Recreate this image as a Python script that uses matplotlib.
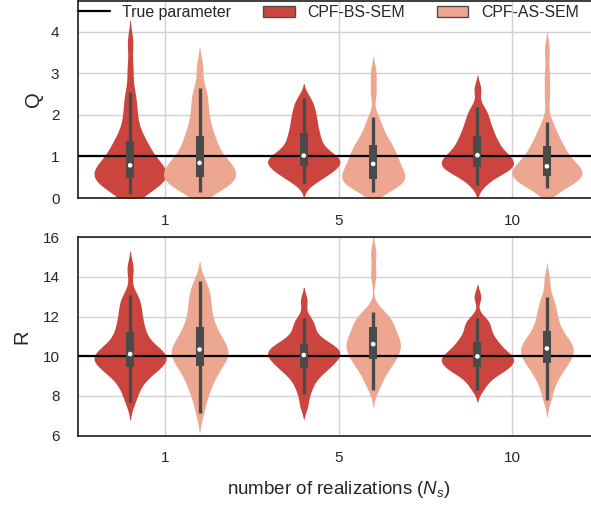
import numpy as np
import pandas as pd
import matplotlib
matplotlib.use("Agg")
import matplotlib.pyplot as plt
from matplotlib.lines import Line2D
from matplotlib.patches import Patch
import seaborn as sns

ns_labels = ["1", "5", "10"]
methods = ["CPF-BS-SEM", "CPF-AS-SEM"]
q_true = 1.0
r_true = 10.0

# estimated Q per run
q_bs_1 = [0.09, 0.17, 0.24, 0.30, 0.35, 0.39, 0.43, 0.46, 0.50, 0.54, 0.58, 0.62, 0.66, 0.70, 0.74, 0.77,
          0.80, 0.88, 0.96, 1.04, 1.12, 1.20, 1.28, 1.36, 1.45, 1.62, 1.82, 2.05, 2.30, 2.56, 3.10, 3.75]
q_as_1 = [0.14, 0.22, 0.28, 0.33, 0.37, 0.41, 0.44, 0.47, 0.51, 0.56, 0.61, 0.66, 0.71, 0.75, 0.79, 0.83,
          0.86, 0.94, 1.02, 1.10, 1.19, 1.28, 1.37, 1.47, 1.58, 1.72, 1.88, 2.05, 2.25, 2.45, 2.65, 3.15]
q_bs_5 = [0.37, 0.45, 0.52, 0.58, 0.63, 0.67, 0.71, 0.75, 0.78, 0.82, 0.86, 0.89, 0.92, 0.95, 0.98, 1.00,
          1.04, 1.10, 1.16, 1.23, 1.30, 1.38, 1.46, 1.54, 1.62, 1.72, 1.82, 1.92, 2.02, 2.14, 2.27, 2.41]
q_as_5 = [0.15, 0.22, 0.28, 0.33, 0.37, 0.40, 0.43, 0.44, 0.47, 0.52, 0.57, 0.62, 0.67, 0.72, 0.76, 0.80,
          0.84, 0.90, 0.96, 1.02, 1.08, 1.14, 1.20, 1.25, 1.31, 1.40, 1.50, 1.62, 1.78, 1.94, 2.55, 3.00]
q_bs_10 = [0.31, 0.44, 0.53, 0.60, 0.65, 0.69, 0.72, 0.73, 0.76, 0.80, 0.84, 0.88, 0.92, 0.95, 0.98, 1.01,
           1.05, 1.10, 1.16, 1.22, 1.28, 1.34, 1.40, 1.47, 1.55, 1.63, 1.72, 1.82, 1.93, 2.05, 2.19, 2.62]
q_as_10 = [0.23, 0.29, 0.34, 0.38, 0.42, 0.45, 0.48, 0.51, 0.54, 0.57, 0.60, 0.63, 0.66, 0.69, 0.72, 0.745,
           0.78, 0.84, 0.90, 0.96, 1.03, 1.10, 1.17, 1.23, 1.30, 1.40, 1.52, 1.66, 1.83, 2.45, 2.95, 3.55]

# estimated R per run
r_bs_1 = [7.70, 8.20, 8.55, 8.80, 9.05, 9.20, 9.30, 9.40, 9.50, 9.60, 9.70, 9.80, 9.88, 9.95, 10.02, 10.08,
          10.14, 10.22, 10.32, 10.44, 10.58, 10.80, 10.98, 11.18, 11.42, 11.65, 11.90, 12.20, 12.50, 12.80, 13.09, 14.40]
r_as_1 = [7.14, 7.80, 8.20, 8.50, 8.75, 8.98, 9.18, 9.38, 9.52, 9.65, 9.78, 9.90, 10.02, 10.13, 10.23, 10.30,
          10.38, 10.50, 10.65, 10.80, 10.95, 11.10, 11.26, 11.42, 11.70, 11.95, 12.20, 12.50, 12.80, 13.10, 13.40, 13.79]
r_bs_5 = [7.50, 8.07, 8.45, 8.70, 8.95, 9.12, 9.25, 9.35, 9.45, 9.55, 9.65, 9.74, 9.83, 9.90, 9.97, 10.03,
          10.09, 10.16, 10.23, 10.30, 10.38, 10.46, 10.53, 10.58, 10.66, 10.80, 10.98, 11.20, 11.45, 11.70, 11.91, 12.80]
r_as_5 = [8.32, 8.70, 8.95, 9.20, 9.40, 9.55, 9.70, 9.80, 9.86, 10.00, 10.12, 10.24, 10.35, 10.45, 10.53, 10.58,
          10.64, 10.75, 10.86, 10.98, 11.10, 11.22, 11.33, 11.42, 11.58, 11.72, 11.86, 12.00, 12.12, 12.25, 14.10, 15.20]
r_bs_10 = [8.32, 8.65, 8.88, 9.05, 9.18, 9.28, 9.36, 9.42, 9.48, 9.56, 9.64, 9.72, 9.80, 9.87, 9.93, 9.97,
           10.01, 10.08, 10.17, 10.27, 10.38, 10.50, 10.60, 10.70, 10.82, 10.98, 11.15, 11.35, 11.55, 11.75, 11.91, 13.00]
r_as_10 = [7.78, 8.30, 8.65, 8.90, 9.10, 9.30, 9.45, 9.57, 9.66, 9.78, 9.90, 10.00, 10.10, 10.20, 10.29, 10.36,
           10.42, 10.52, 10.62, 10.73, 10.84, 10.96, 11.10, 11.24, 11.44, 11.65, 11.88, 12.12, 12.38, 12.68, 13.00, 13.85]

q_groups = {("1", "CPF-BS-SEM"): q_bs_1, ("1", "CPF-AS-SEM"): q_as_1,
            ("5", "CPF-BS-SEM"): q_bs_5, ("5", "CPF-AS-SEM"): q_as_5,
            ("10", "CPF-BS-SEM"): q_bs_10, ("10", "CPF-AS-SEM"): q_as_10}
r_groups = {("1", "CPF-BS-SEM"): r_bs_1, ("1", "CPF-AS-SEM"): r_as_1,
            ("5", "CPF-BS-SEM"): r_bs_5, ("5", "CPF-AS-SEM"): r_as_5,
            ("10", "CPF-BS-SEM"): r_bs_10, ("10", "CPF-AS-SEM"): r_as_10}

BOX_GRAY = "#4a4a4a"
DODGE = 0.2  # half of the 0.4 slot each method gets in a group
palette = dict(zip(methods, sns.color_palette("Reds_r", 2)))


def slot(ns, method):
    return ns_labels.index(ns) + (methods.index(method) - 0.5) * 2 * DODGE


def to_frame(groups, ns):
    rows = []
    for m in methods:
        for v in groups[(ns, m)]:
            rows.append((slot(ns, m), m, v))
    return pd.DataFrame(rows, columns=["pos", "method", "value"])


def draw_boxes(ax, groups):
    # inner box like seaborn's old inner="box"
    for (ns, m), vals in groups.items():
        vals = np.asarray(vals)
        pos = slot(ns, m)
        q1, med, q3 = np.percentile(vals, [25, 50, 75])
        lim = 1.5 * (q3 - q1)
        lo = vals[vals >= q1 - lim].min()
        hi = vals[vals <= q3 + lim].max()
        ax.plot([pos, pos], [lo, hi], color=BOX_GRAY, lw=2.4,
                solid_capstyle="butt", zorder=4)
        ax.plot([pos, pos], [q1, q3], color=BOX_GRAY, lw=5.8,
                solid_capstyle="butt", zorder=4)
        ax.scatter([pos], [med], s=11, color="white", edgecolor="none", zorder=5)


def panel(ax, groups, true_val, bw):
    # one call per group so the pair is scaled together (old scale_hue=True)
    for ns in ns_labels:
        sns.violinplot(data=to_frame(groups, ns), x="pos", y="value", hue="method",
                       hue_order=methods, native_scale=True, dodge=False, width=1.04,
                       common_norm=True, palette=palette, inner=None, linewidth=0,
                       bw_adjust=bw, cut=2, legend=False, ax=ax)
    ax.axhline(true_val, color="black", lw=1.6, zorder=3)
    draw_boxes(ax, groups)
    ax.set_xticks(range(len(ns_labels)))
    ax.set_xticklabels(ns_labels)
    ax.set_xlim(-0.5, 2.5)
    ax.grid(True, axis="both")
    ax.set_axisbelow(True)
    ax.tick_params(axis="both", length=0, labelsize=11)
    ax.tick_params(axis="x", pad=11.4)
    ax.tick_params(axis="y", pad=13.4)


sns.set_theme(style="whitegrid", rc={"axes.edgecolor": ".15", "axes.linewidth": 1.25,
                                     "grid.color": ".82", "grid.linewidth": 1.0})
plt.rcParams["font.family"] = ["Liberation Sans", "DejaVu Sans"]
plt.rcParams["mathtext.fontset"] = "custom"
plt.rcParams["mathtext.rm"] = "Liberation Sans"
plt.rcParams["mathtext.it"] = "Liberation Sans:italic"

fig = plt.figure(figsize=(5.91, 5.07), dpi=100)
ax_q = fig.add_axes([78 / 591, 309 / 507, 521 / 591, 197.5 / 507])
ax_r = fig.add_axes([78 / 591, 71.5 / 507, 521 / 591, 198.2 / 507])

panel(ax_q, q_groups, q_true, 0.6)
ax_q.set_ylim(0, 4.75)
ax_q.set_yticks([0, 1, 2, 3, 4])
ax_q.set_xlabel("")
ax_q.set_ylabel("Q", fontsize=14.5)
ax_q.yaxis.set_label_coords(-0.068, 0.5)

panel(ax_r, r_groups, r_true, 0.6)
ax_r.set_ylim(6, 16)
ax_r.set_yticks([6, 8, 10, 12, 14, 16])
ax_r.set_xlabel("number of realizations ($N_s$)", fontsize=13.5, labelpad=9.6)
ax_r.set_ylabel("R", fontsize=14.5)
ax_r.yaxis.set_label_coords(-0.09, 0.5)

cols = [sns.desaturate(palette[m], 0.75) for m in methods]
handles = [Line2D([], [], color="black", lw=1.6),
           Patch(facecolor=cols[0], edgecolor=".3", lw=1),
           Patch(facecolor=cols[1], edgecolor=".3", lw=1)]
ax_q.legend(handles, ["True parameter"] + methods, ncol=3, loc="upper left",
            bbox_to_anchor=(0, 0.978), borderaxespad=0, borderpad=0,
            frameon=False, fontsize=11.4)

fig.savefig("out.png", dpi=100)
